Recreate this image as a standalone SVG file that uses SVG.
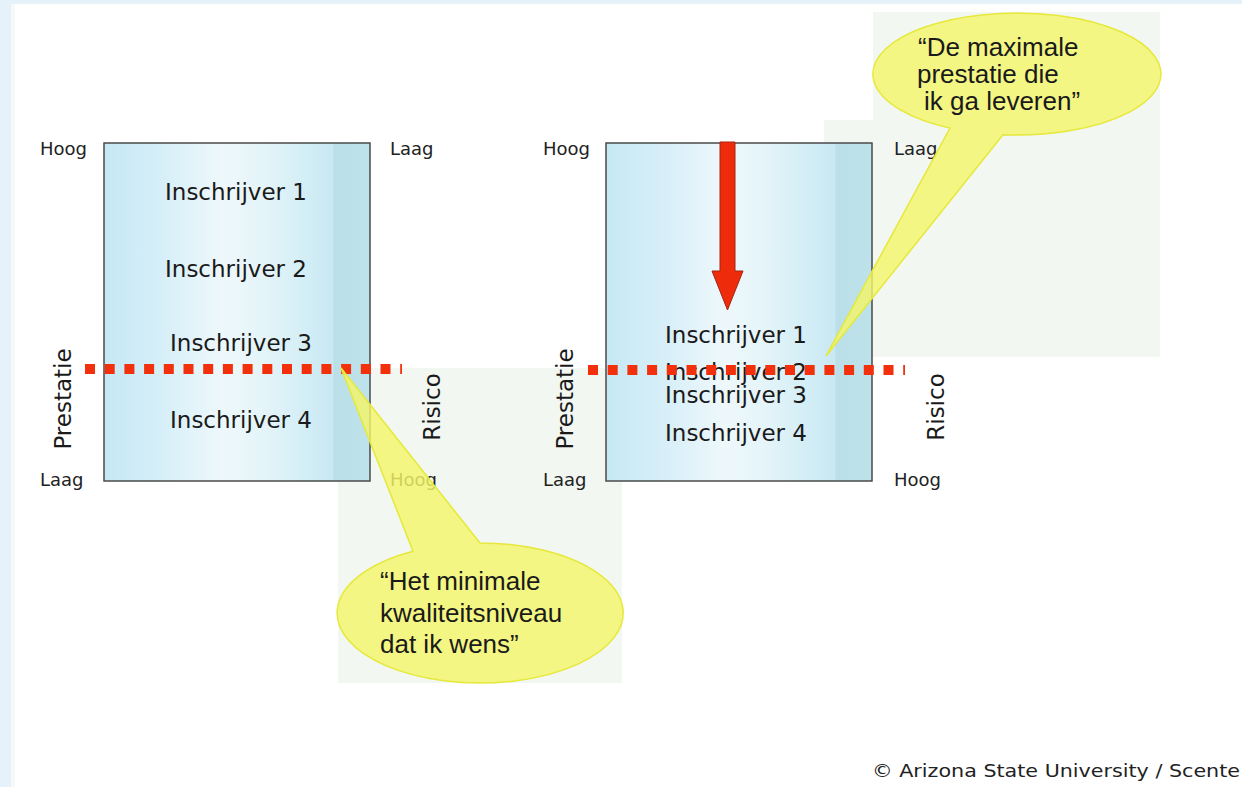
<svg xmlns="http://www.w3.org/2000/svg" width="1242" height="787" viewBox="0 0 1242 787">
<defs>
<linearGradient id="boxfill" x1="0" y1="0" x2="1" y2="0">
<stop offset="0" stop-color="#c6e8f5"/>
<stop offset="0.2" stop-color="#d5eef8"/>
<stop offset="0.45" stop-color="#eef8fb"/>
<stop offset="0.6" stop-color="#e4f4f9"/>
<stop offset="0.75" stop-color="#d4eef6"/>
<stop offset="0.86" stop-color="#c8e8f3"/>
<stop offset="0.865" stop-color="#badfe8"/>
<stop offset="1" stop-color="#bde2ea"/>
</linearGradient>
<style>
.box{fill:url(#boxfill);stroke:#4a4a4a;stroke-width:1.5}
.ins{font-family:"DejaVu Sans",Verdana,sans-serif;font-size:23px;fill:#1a1a1a;text-anchor:middle}
.corner{font-family:"DejaVu Sans",Verdana,sans-serif;font-size:18px;fill:#222}
.axis{font-family:"DejaVu Sans",Verdana,sans-serif;font-size:23px;fill:#1a1a1a;text-anchor:middle}
.dots{stroke:#f2300c;stroke-width:10;stroke-dasharray:10 9.7;fill:none}
.callout{fill:#f3f56a;fill-opacity:0.82;stroke:#e6e83a;stroke-width:1.5}
.ctext{font-family:"Liberation Sans",Arial,sans-serif;font-size:26px;fill:#1a1a1a}
.bgfaint{fill:#f2f7f2}
</style>
</defs>
<rect x="0" y="0" width="1242" height="787" fill="#ffffff"/>
<rect x="0" y="0" width="1242" height="4" fill="#e6f2f9"/>
<rect x="0" y="0" width="11" height="787" fill="#e6f2f9"/>
<rect x="11" y="4" width="4" height="783" fill="#f4f9fc"/>

<g id="callout-backgrounds">
<rect class="bgfaint" x="338" y="368" width="284" height="315"/>
<path class="bgfaint" d="M873 12 H1160 V357 H824 V120 H873 Z"/>
</g>

<g id="box-left">
<rect class="box" x="104" y="143" width="266" height="338"/>
<text class="ins" x="236" y="200">Inschrijver 1</text>
<text class="ins" x="236" y="277">Inschrijver 2</text>
<text class="ins" x="241" y="351">Inschrijver 3</text>
<text class="ins" x="241" y="428">Inschrijver 4</text>
</g>

<g id="box-right">
<rect class="box" x="606" y="143" width="266" height="338"/>
<text class="ins" x="736" y="343">Inschrijver 1</text>
<text class="ins" x="736" y="380">Inschrijver 2</text>
<text class="ins" x="736" y="403">Inschrijver 3</text>
<text class="ins" x="736" y="441">Inschrijver 4</text>
</g>

<g id="labels-left">
<text class="corner" x="40" y="155">Hoog</text>
<text class="corner" x="390" y="155">Laag</text>
<text class="corner" x="40" y="486">Laag</text>
<text class="corner" x="390" y="486">Hoog</text>
<text class="axis" transform="translate(71 399) rotate(-90)">Prestatie</text>
<text class="axis" transform="translate(440 407) rotate(-90)">Risico</text>
</g>

<g id="labels-right">
<text class="corner" x="543" y="155">Hoog</text>
<text class="corner" x="894" y="155">Laag</text>
<text class="corner" x="543" y="486">Laag</text>
<text class="corner" x="894" y="486">Hoog</text>
<text class="axis" transform="translate(573 399) rotate(-90)">Prestatie</text>
<text class="axis" transform="translate(944 407) rotate(-90)">Risico</text>
</g>

<g id="connectors">
<line class="dots" x1="85" y1="369" x2="402" y2="369"/>
<line class="dots" x1="588" y1="370" x2="905" y2="370"/>
<path d="M720 142 H735 V271 H743 L727.5 310 L712 271 H720 Z" fill="#ee2c0c" stroke="#a52410" stroke-width="1"/>
</g>

<g id="callout-min">
<path class="callout" d="M341 368 L480 543 A143 70 0 1 1 413 551.2 Z"/>
<text class="ctext" x="380" y="590">“Het minimale</text>
<text class="ctext" x="380" y="622">kwaliteitsniveau</text>
<text class="ctext" x="380" y="653">dat ik wens”</text>
</g>

<g id="callout-max">
<path class="callout" d="M826 356 L950 128 A144 61 0 1 1 1003 134.7 Z"/>
<text class="ctext" x="918" y="56">“De maximale</text>
<text class="ctext" x="917" y="83">prestatie die</text>
<text class="ctext" x="924" y="110">ik ga leveren”</text>
</g>

<g id="copyright">
<text x="872" y="777" font-family="DejaVu Sans, Verdana, sans-serif" font-size="18" fill="#222" textLength="368" lengthAdjust="spacingAndGlyphs">© Arizona State University / Scente</text>
</g>
</svg>
